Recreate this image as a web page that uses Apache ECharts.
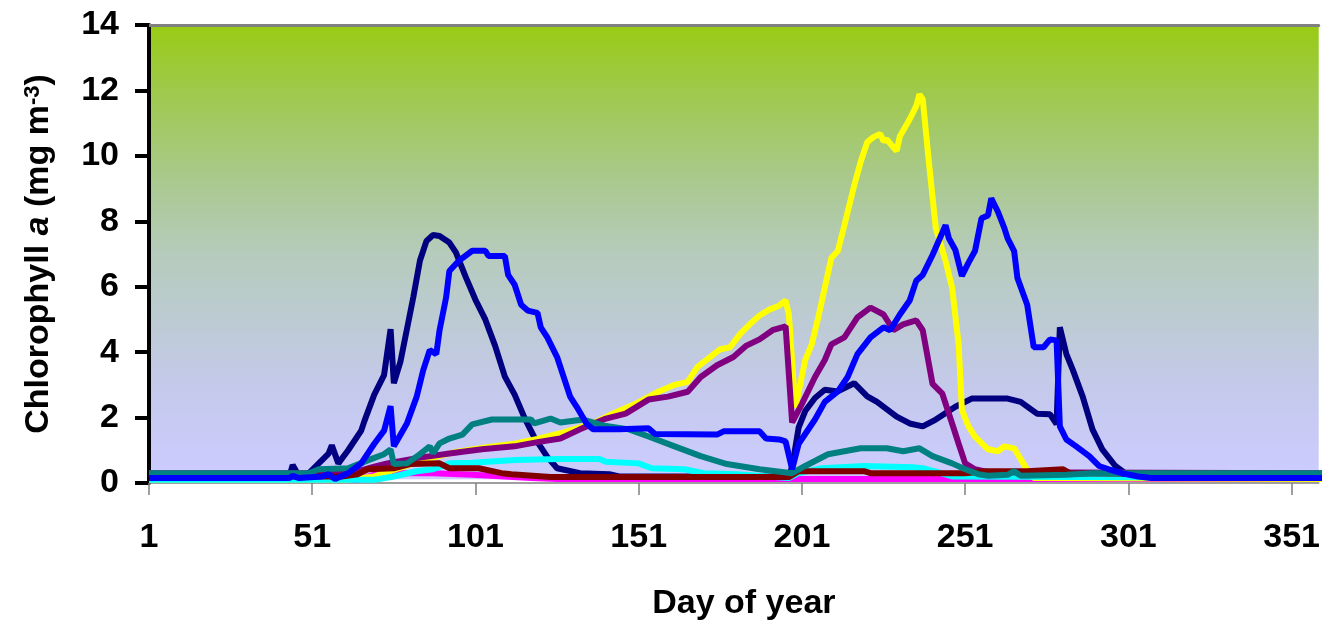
<!DOCTYPE html>
<html>
<head>
<meta charset="utf-8">
<script src="https://cdn.jsdelivr.net/npm/echarts@6/dist/echarts.min.js"></script>
<style>
  html, body { margin: 0; padding: 0; background: #fff; }
  #chart { width: 1323px; height: 626px; }
</style>
</head>
<body>
<div id="chart"></div>
<script>
/* tick labels */
var xTicks = [1, 51, 101, 151, 201, 251, 301, 351];

/* series: [day of year, chlorophyll a] */
var navy = [[1,0.2],[44,0.2],[45,0.55],[47,0.2],[50,0.3],[53,0.6],[56,0.9],[57,1.15],[59,0.6],[62,1.0],[66,1.6],[67,1.9],[70,2.7],[73,3.3],[75,4.7],[76,3.05],[78,3.7],[80,4.7],[82,5.7],[84,6.8],[86,7.4],[88,7.58],[90,7.55],[93,7.35],[95,7.05],[98,6.3],[101,5.6],[104,5.0],[107,4.2],[110,3.25],[113,2.7],[116,2.0],[119,1.4],[123,0.8],[126,0.45],[133,0.3],[142,0.27],[145,0.2],[197,0.2],[198,0.5],[200,1.7],[202,2.2],[205,2.6],[208,2.85],[212,2.8],[217,3.05],[221,2.65],[224,2.48],[230,2.03],[234,1.82],[238,1.73],[242,1.94],[248,2.33],[253,2.58],[264,2.58],[268,2.48],[273,2.12],[277,2.1],[279,1.8],[280,4.76],[282,3.94],[284,3.45],[287,2.64],[290,1.64],[293,1.03],[297,0.52],[300,0.3],[303,0.2],[365,0.2]];
var magenta = [[1,0.1],[65,0.1],[70,0.25],[75,0.3],[88,0.3],[100,0.25],[118,0.15],[126,0.12],[365,0.12]];
var yellow = [[1,0.1],[62,0.1],[70,0.2],[76,0.4],[85,0.7],[95,0.95],[105,1.1],[113,1.2],[120,1.35],[128,1.55],[137,1.82],[143,2.12],[150,2.42],[157,2.79],[162,3.0],[166,3.09],[169,3.55],[176,4.09],[179,4.15],[182,4.55],[185,4.85],[188,5.12],[191,5.3],[194,5.42],[196,5.58],[197,5.15],[199,2.3],[202,3.76],[204,4.24],[206,5.06],[208,5.97],[210,6.88],[212,7.09],[214,7.88],[217,9.09],[219,9.82],[221,10.42],[223,10.58],[225,10.67],[226,10.45],[227,10.5],[230,10.15],[231,10.6],[234,11.12],[236,11.52],[237,11.88],[238,11.73],[240,9.7],[242,7.79],[245,6.79],[247,5.97],[249,4.24],[250,2.24],[252,1.73],[254,1.42],[258,1.03],[261,0.97],[263,1.12],[266,1.06],[268,0.73],[270,0.4],[272,0.15],[365,0.12]];
var cyan = [[1,0.1],[70,0.1],[76,0.2],[83,0.36],[88,0.42],[93,0.6],[100,0.62],[113,0.7],[127,0.73],[139,0.73],[141,0.65],[151,0.6],[155,0.45],[165,0.42],[171,0.3],[181,0.27],[197,0.15],[200,0.3],[207,0.45],[220,0.52],[235,0.48],[238,0.45],[242,0.35],[247,0.2],[365,0.15]];
var purple = [[1,0.3],[60,0.3],[63,0.3],[70,0.5],[74,0.6],[83,0.76],[93,0.9],[103,1.03],[113,1.12],[120,1.25],[127,1.36],[133,1.64],[141,1.97],[147,2.12],[154,2.55],[160,2.64],[166,2.79],[170,3.24],[175,3.6],[180,3.85],[184,4.2],[188,4.39],[192,4.67],[196,4.79],[198,1.85],[201,2.42],[205,3.24],[208,3.76],[210,4.24],[214,4.45],[218,5.06],[222,5.36],[226,5.15],[229,4.67],[232,4.85],[236,4.97],[238,4.67],[241,3.03],[244,2.73],[247,1.82],[249,1.2],[251,0.6],[254,0.42],[258,0.33],[365,0.3]];
var darkred = [[1,0.2],[60,0.2],[65,0.27],[68,0.42],[76,0.45],[81,0.58],[90,0.6],[93,0.45],[102,0.45],[109,0.3],[112,0.27],[124,0.18],[197,0.18],[200,0.36],[220,0.36],[222,0.3],[251,0.3],[257,0.36],[270,0.36],[281,0.42],[283,0.3],[365,0.25]];
var teal = [[1,0.3],[50,0.3],[53,0.42],[62,0.45],[69,0.73],[73,0.88],[75,1.03],[76,0.58],[80,0.6],[84,0.88],[87,1.12],[88,0.91],[90,1.21],[93,1.36],[97,1.48],[100,1.79],[106,1.94],[118,1.94],[119,1.82],[124,1.97],[127,1.85],[134,1.94],[140,1.76],[148,1.64],[154,1.42],[162,1.12],[170,0.82],[178,0.58],[188,0.42],[198,0.3],[202,0.52],[209,0.88],[219,1.06],[227,1.06],[232,0.97],[237,1.06],[241,0.82],[247,0.6],[251,0.42],[255,0.27],[258,0.22],[264,0.25],[266,0.36],[268,0.22],[282,0.25],[290,0.3],[365,0.3]];
var blue = [[1,0.15],[44,0.15],[45,0.22],[47,0.15],[54,0.2],[56,0.27],[58,0.12],[62,0.3],[66,0.6],[70,1.2],[73,1.6],[75,2.35],[76,1.12],[80,1.82],[83,2.64],[85,3.45],[87,4.06],[89,3.94],[90,4.67],[92,5.67],[93,6.48],[96,6.8],[100,7.1],[104,7.1],[105,6.94],[110,6.94],[111,6.36],[113,6.06],[115,5.45],[117,5.27],[120,5.2],[121,4.76],[123,4.45],[126,3.85],[130,2.64],[132,2.33],[135,1.82],[137,1.64],[145,1.64],[154,1.67],[156,1.5],[175,1.48],[177,1.58],[188,1.58],[190,1.36],[194,1.33],[196,1.27],[198,0.42],[200,1.2],[205,1.94],[208,2.48],[212,2.8],[215,3.24],[218,3.94],[222,4.45],[226,4.76],[228,4.67],[231,5.15],[234,5.58],[236,6.18],[238,6.36],[241,6.97],[245,7.88],[246,7.48],[248,7.12],[250,6.33],[252,6.73],[254,7.09],[256,8.09],[258,8.18],[259,8.7],[261,8.3],[263,7.79],[264,7.48],[266,7.09],[267,6.27],[270,5.45],[272,4.15],[275,4.15],[277,4.39],[279,4.36],[280,1.73],[282,1.33],[285,1.12],[289,0.82],[292,0.52],[295,0.42],[299,0.3],[304,0.2],[308,0.15],[365,0.15]];

var seriesList = [
  { data: navy, color: '#000080' },
  { data: magenta, color: '#ff00ff' },
  { data: yellow, color: '#ffff00' },
  { data: cyan, color: '#00ffff' },
  { data: purple, color: '#800080' },
  { data: darkred, color: '#800000' },
  { data: teal, color: '#008080' },
  { data: blue, color: '#0000ff' }
];

var font = "'Liberation Sans', Arial, sans-serif";
var chart = echarts.init(document.getElementById('chart'));

var option = {
  animation: false,
  grid: {
    left: 149, right: 0, top: 25, bottom: 139,
    show: true,
    borderWidth: 0,
    backgroundColor: {
      type: 'linear', x: 0, y: 0, x2: 0, y2: 1,
      colorStops: [
        { offset: 0, color: '#98cb14' },
        { offset: 0.15, color: '#9fc94e' },
        { offset: 0.35, color: '#aac991' },
        { offset: 0.5, color: '#b6cbbc' },
        { offset: 0.65, color: '#bdcbd4' },
        { offset: 0.8, color: '#c5c9ec' },
        { offset: 0.992, color: '#ccccff' },
        { offset: 0.9925, color: '#ffffff' },
        { offset: 1, color: '#ffffff' }
      ]
    }
  },
  xAxis: [{
    type: 'value',
    min: 1,
    max: 359.3,
    name: 'Day of year',
    nameLocation: 'middle',
    nameGap: 104,
    nameTextStyle: { fontFamily: font, fontWeight: 'bold', fontSize: 34, color: '#000', padding: [0, 0, 0, 20] },
    axisLine: { onZero: false, lineStyle: { color: '#808080', width: 1.5 } },
    axisTick: { show: true, length: 12, customValues: xTicks, lineStyle: { color: '#808080', width: 1.5 } },
    axisLabel: { customValues: xTicks, margin: 38, fontFamily: font, fontWeight: 'bold', fontSize: 34, color: '#000' },
    splitLine: { show: false }
  }, {
    type: 'value',
    position: 'top',
    min: 1,
    max: 359.3,
    axisLine: { show: true, onZero: false, lineStyle: { color: '#808080', width: 3 } },
    axisTick: { show: false },
    axisLabel: { show: false },
    splitLine: { show: false }
  }],
  yAxis: {
    type: 'value',
    min: 0,
    max: 14,
    interval: 2,
    name: 'Chlorophyll {i|a} (mg m{s|-3})',
    nameLocation: 'middle',
    nameGap: 93,
    nameTextStyle: {
      fontFamily: font, fontWeight: 'bold', fontSize: 34, color: '#000',
      rich: {
        i: { fontFamily: font, fontWeight: 'bold', fontStyle: 'italic', fontSize: 34, color: '#000' },
        s: { fontFamily: font, fontWeight: 'bold', fontSize: 22, color: '#000', verticalAlign: 'top', padding: [0, 0, 12, 0] }
      }
    },
    axisLine: { show: true, onZero: false, lineStyle: { color: '#000', width: 4 } },
    axisTick: { show: true, length: 14, lineStyle: { color: '#000', width: 4 } },
    axisLabel: { margin: 30, fontFamily: font, fontWeight: 'bold', fontSize: 34, color: '#000' },
    splitLine: { show: false }
  },
  series: seriesList.map(function (s) {
    return {
      type: 'line',
      data: s.data,
      showSymbol: false,
      symbol: 'none',
      clip: true,
      lineStyle: { color: s.color, width: 6 },
      itemStyle: { color: s.color }
    };
  })
};
chart.setOption(option);
</script>
</body>
</html>
